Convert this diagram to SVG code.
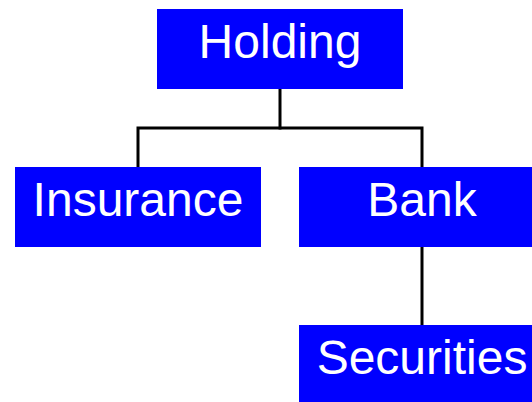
<svg xmlns="http://www.w3.org/2000/svg" width="532" height="402" viewBox="0 0 532 402">
<style>
.box{fill:#0000ff;}
.lbl{font-family:"Liberation Sans",Arial,sans-serif;font-size:48px;fill:#ffffff;text-anchor:middle;}
.conn{stroke:#000000;stroke-width:3;fill:none;stroke-linecap:square;}
</style>
<rect width="532" height="402" fill="#ffffff"/>
<g id="connectors">
<path class="conn" d="M280,89 V128"/>
<path class="conn" d="M138,167 V128 H422 V167"/>
<path class="conn" d="M422,247 V325"/>
</g>
<g id="holding">
<rect class="box" x="157" y="9" width="246" height="80"/>
<text class="lbl" x="280" y="57.5">Holding</text>
</g>
<g id="insurance">
<rect class="box" x="15" y="167" width="246" height="80"/>
<text class="lbl" x="138" y="215.5">Insurance</text>
</g>
<g id="bank">
<rect class="box" x="299" y="167" width="246" height="80"/>
<text class="lbl" x="422" y="215.5">Bank</text>
</g>
<g id="securities">
<rect class="box" x="299" y="325" width="246" height="80"/>
<text class="lbl" x="422" y="373.5">Securities</text>
</g>
</svg>
